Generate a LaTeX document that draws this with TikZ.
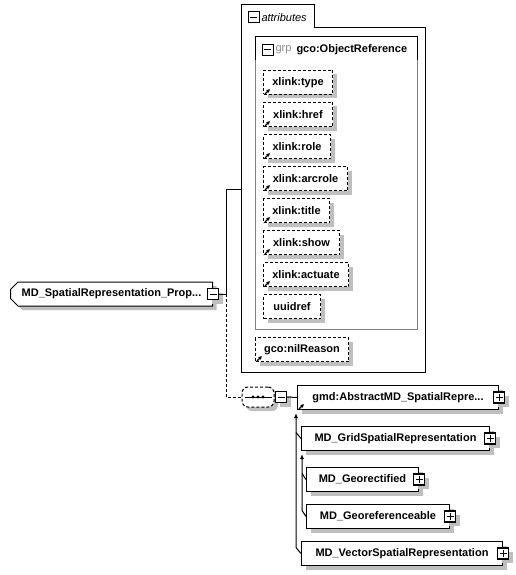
\documentclass[tikz,border=0pt]{standalone}
\usepackage{fontspec}
\setmainfont{Liberation Sans}
\usetikzlibrary{arrows.meta,shapes.misc,shadows}

\tikzset{
  shady/.style={drop shadow={shadow xshift=4pt,shadow yshift=-4pt,fill=black!25,opacity=1}},
  box/.style={font=\fontsize{11}{13}\selectfont\bfseries,minimum height=24pt,
    inner sep=0pt,anchor=north west,fill=white,shady},
  attr/.style={box,draw,dash pattern=on 3pt off 2pt},
  elem/.style={box,draw},
  tog/.style={draw,fill=white,line width=1.2pt,minimum size=11pt,inner sep=0pt},
  minusbox/.style={tog,path picture={
    \draw[line width=1pt] ([xshift=2pt]path picture bounding box.west)
      -- ([xshift=-2pt]path picture bounding box.east);}},
  plusbox/.style={tog,path picture={
    \draw[line width=1pt] ([xshift=2pt]path picture bounding box.west)
      -- ([xshift=-2pt]path picture bounding box.east);
    \draw[line width=1pt] ([yshift=-2pt]path picture bounding box.north)
      -- ([yshift=2pt]path picture bounding box.south);}},
  icon/.style={-{Latex[length=3.5pt,width=4pt]},line width=1.2pt},
  inh/.style={-{Latex[length=5pt,width=4pt]}},
}

\begin{document}
\begin{tikzpicture}[x=1pt,y=-1pt,line width=1pt,font=\fontsize{11}{13}\selectfont]
  \useasboundingbox (0,0) rectangle (516,575);

  % attributes frame
  \draw (241,372) -- (241,5) -- (314,5) -- (314,28) -- (425,28) -- (425,372) -- cycle;
  \node[minusbox,line width=1pt] (attrtog) at (253.5,17.5) {};
  \node[anchor=west,inner sep=0pt,font=\fontsize{11}{13}\selectfont\itshape] (attrlbl) at (261,17.5) {attributes};
  \coordinate (attrin) at (241,189);

  % group
  \draw[black!50] (255,60) -- (255,329) -- (417,329) -- (417,60);
  \draw (255,60) -- (255,37) -- (417,37) -- (417,60);
  \node[minusbox,line width=1pt] (grptog) at (267.5,50) {};
  \node[anchor=west,inner sep=0pt,text=black!45] (grplbl) at (275,49.5) {grp};
  \node[anchor=west,inner sep=0pt,font=\fontsize{11}{13}\selectfont\bfseries] (grpname) at (296,49.5) {gco:ObjectReference};

  \node[attr,minimum width=69pt] (xtype) at (263,70) {xlink:type};
  \node[attr,minimum width=69pt] (xhref) at (263,102) {xlink:href};
  \node[attr,minimum width=67pt] (xrole) at (263,134) {xlink:role};
  \node[attr,minimum width=84pt] (xarc) at (263,166) {xlink:arcrole};
  \node[attr,minimum width=66pt] (xtitle) at (263,198) {xlink:title};
  \node[attr,minimum width=76pt] (xshow) at (263,230) {xlink:show};
  \node[attr,minimum width=85pt] (xact) at (263,262) {xlink:actuate};
  \node[attr,minimum width=57pt] (uuid) at (263,294) {uuidref};
  \node[attr,minimum width=93pt] (nil) at (255,337) {gco:nilReason};

  % left element
  \node[elem,chamfered rectangle,chamfered rectangle corners={north west,south west},
    chamfered rectangle xsep=4pt,minimum width=202pt,anchor=west] (prop) at (10,294)
    {MD\_SpatialRepresentation\_Prop...};
  \node[minusbox,shady] (proptog) at (prop.east) {};

  % sequence
  \node[draw,dash pattern=on 3pt off 2pt,rounded corners=6pt,minimum width=32pt,
    minimum height=20pt,fill=white,shady] (seq) at (258,397) {};
  \draw ([xshift=3pt]seq.west) -- ([xshift=-3pt]seq.east);
  \foreach \dx in {-5,0,5}
    \fill ([xshift=\dx pt]seq.center) circle (1.6pt);
  \node[minusbox,shady] (seqtog) at (281,397) {};

  % types
  \node[elem,minimum width=201pt] (abs) at (297,385) {gmd:AbstractMD\_SpatialRepre...};
  \node[plusbox,shady] (abstog) at (abs.east) {};
  \node[elem,minimum width=188pt] (grid) at (301,426) {MD\_GridSpatialRepresentation};
  \node[plusbox,shady] (gridtog) at (grid.east) {};
  \node[elem,minimum width=112pt] (geor) at (306,467) {MD\_Georectified};
  \node[plusbox,shady] (geortog) at (geor.east) {};
  \node[elem,minimum width=143pt] (georef) at (306,504) {MD\_Georeferenceable};
  \node[plusbox,shady] (georeftog) at (georef.east) {};
  \node[elem,minimum width=201pt] (vect) at (301,541) {MD\_VectorSpatialRepresentation};
  \node[plusbox,shady] (vecttog) at (vect.east) {};

  \foreach \n in {xtype,xhref,xrole,xarc,xtitle,xshow,xact,nil,abs}
    \draw[icon] ([shift={(2,-1)}]\n.south west) -- ++(5,-5);

  % connectors
  \coordinate (fork) at (226,294);
  \draw (proptog.east) -- (fork) |- (attrin);
  \draw[dash pattern=on 3pt off 2pt] (fork) |- (seq.west);
  \draw (seqtog.east) -- (abs.west);

  \draw[inh] (vect.west) -- ++(-5,-6) -- ([shift={(-1,3)}]abs.south west);
  \draw (grid.west) -- ++(-5,-6);
  \draw[inh] (georef.west) -- ++(-4,-6) -- ([shift={(1,3)}]grid.south west);
  \draw (geor.west) -- ++(-4,-6);
\end{tikzpicture}
\end{document}
